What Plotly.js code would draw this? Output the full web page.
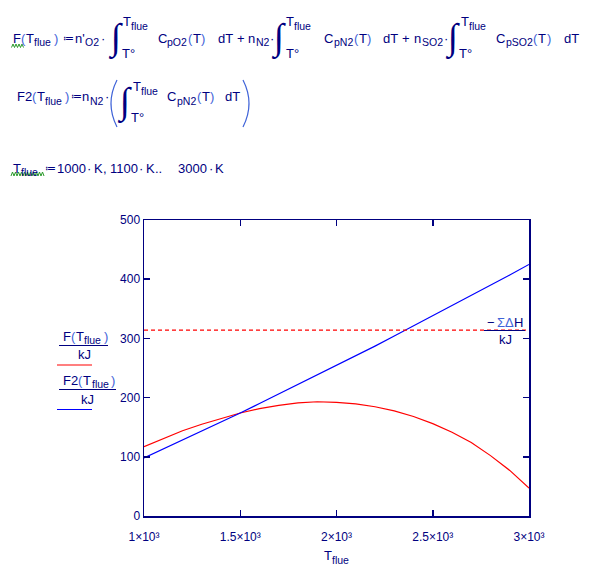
<!DOCTYPE html>
<html><head><meta charset="utf-8">
<script src="https://cdn.plot.ly/plotly-3.0.1.min.js"></script>
<style>html,body{margin:0;padding:0;background:#fff}#chart{width:595px;height:576px}</style>
</head><body><div id="chart"></div>
<script>
// ---- data ----
const tFlue = [1000,1100,1200,1300,1400,1500,1600,1700,1800,1900,2000,2100,2200,2300,2400,2500,2600,2700,2800,2900,3000];
const fValues = [117,131,144,155,165,174,181.5,187,191,193,192,189.5,184.5,177.5,168,156,141.5,124,102,77,47];
const f2Values = [98,113,128,143,159,174,190,206,222,238,254,270,287,304,321,338,355,372,390,407,425];
const heatRelease = 314; // -ΣΔH / kJ
const xTickVals = [1000,1500,2000,2500,3000];
const xTickText = ['1×10³','1.5×10³','2×10³','2.5×10³','3×10³'];
const yTickVals = [0,100,200,300,400,500];

// ---- layout helpers ----
const NAVY = '#000080', PAREN = '#3f63d8', GREEN = '#2a9a2a';
const FAM = 'Liberation Sans';
const FONT = 'Liberation Sans, Arial, sans-serif';
const SUBSIZE = 10.5;
const L = 144, R = 529, TOP = 220, BOT = 516;
const W = R - L, H = BOT - TOP;
const px = x => (x - L) / W;
const py = y => (BOT - y) / H;
const anns = [];
function txt(x, y, text, o) {
  o = o || {};
  anns.push({xref:'paper', yref:'paper', x:px(x), y:py(y), text:text, showarrow:false,
    xanchor:o.xa || 'left', yanchor:'middle', borderpad:0,
    font:{family:o.family || FONT, size:o.size || 13, color:o.color || NAVY}});
}
const ctx = document.createElement('canvas').getContext('2d');
function measure(t, size, fam) { ctx.font = size + 'px "' + (fam || FAM) + '"'; return ctx.measureText(t).width; }
// items: {t, x (anchor), g (gap), s (subscript), p (paren colour), size, fam}
function run(y, items) {
  let end = -1e9;
  for (const it of items) {
    const size = it.s ? SUBSIZE : (it.size || 13);
    const g = it.g || 0;
    const x = (it.x !== undefined) ? Math.max(it.x, end + g) : end + g;
    txt(x, y + (it.s ? 4 : 0), it.t, {size:size, color:it.p ? PAREN : NAVY,
      family:it.fam ? it.fam + ', ' + FONT : FONT});
    end = x + measure(it.t, size, it.fam);
  }
}
const M = (t, x, g) => ({t:t, x:x, g:g === undefined ? 0.5 : g});
const S = (t, g) => ({t:t, s:true, g:g === undefined ? 0.3 : g});
const Pn = (t, g) => ({t:t, p:true, g:g === undefined ? 0.6 : g});
const ASSIGN = x => ({t:'≔', x:x, g:1, size:11, fam:'DejaVu Sans'});
const argT = () => [Pn('(', 0.8), M('T', undefined, 0.5), Pn(')', 0.5)];
const fOfT = (name, x) => [M(name, x), Pn('(', 0.6), M('T', undefined, 0.5), S('flue'), Pn(')', 2.4)];

const shapes = [];
function hline(x0, x1, y, color, w) {
  shapes.push({type:'line', xref:'paper', yref:'paper', x0:px(x0), x1:px(x1), y0:py(y), y1:py(y),
    line:{color:color, width:w || 1}, layer:'above'});
}
function squiggle(x0, x1, yTop, yBot) {
  let d = 'M' + px(x0) + ',' + py(yBot);
  let up = true;
  for (let x = x0 + 1.5; x <= x1 + 0.01; x += 1.5) {
    d += ' L' + px(x) + ',' + py(up ? yTop : yBot);
    up = !up;
  }
  shapes.push({type:'path', xref:'paper', yref:'paper', path:d, line:{color:GREEN, width:1}, layer:'above'});
}
function bigParen(xEdge, xMid, yTop, yBot) {
  const d = 'M' + px(xEdge) + ',' + py(yTop) + ' Q' + px(xMid) + ',' + py((yTop + yBot) / 2) + ' ' + px(xEdge) + ',' + py(yBot);
  shapes.push({type:'path', xref:'paper', yref:'paper', path:d, line:{color:PAREN, width:1.2}, layer:'above'});
}
function integral(x, yc, xUp, yUp, xLo, yLo) {
  txt(x, yc, '∫', {size:37, family:'Liberation Serif, serif'});
  run(yUp, [M('T', xUp), S('flue')]);
  run(yLo, [M('T°', xLo)]);
}

// ---- line 1 ----
const y1 = 38;
run(y1, [].concat(fOfT('F', 11.7), [ASSIGN(62), M("n'", 72, 0.5), S('O2', 1.2), M('·', undefined, 1.5)]));
integral(107, 37, 121.5, 21.7, 121, 53.3);
run(y1, [].concat([M('C', 156.7), S('pO2')], argT(),
  [M('dT', 216.5, 4), M('+', 236, 3), M('n', 246.5, 3), S('N2', 0.8), M('·', undefined, 1)]));
integral(270, 37, 285, 21.7, 285, 53.3);
run(y1, [].concat([M('C', 323), S('pN2')], argT(),
  [M('dT', 382, 4), M('+', 401, 3), M('n', 413, 3), S('SO2', 0.8), M('·', undefined, 1)]));
integral(444, 37, 460, 21.7, 458, 53.3);
run(y1, [].concat([M('C', 495), S('pSO2')], argT(), [M('dT', 563, 4)]));
squiggle(11.5, 24, 44, 47.5);

// ---- line 2 ----
const y2 = 97;
run(y2, [].concat(fOfT('F2', 15.5), [ASSIGN(69.5), M('n', 78, 0.5), S('N2', 0.8), M('·', undefined, 1.5)]));
bigParen(117, 105, 80, 127);
integral(116, 101.5, 132, 86.7, 130, 117.7);
run(y2, [].concat([M('C', 166), S('pN2')], argT(), [M('dT', 224, 4)]));
bigParen(243, 255, 80, 127);

// ---- line 3 ----
const y3 = 168;
run(y3, [M('T', 11.7), S('flue'), ASSIGN(43.5),
  M('1000', 53.3, 1), M('·', undefined, 2), M('K', undefined, 2), M(',', 101.5, 1),
  M('1100', 108.5, 2), M('·', undefined, 2), M('K', undefined, 2), M('..', 154, 1),
  M('3000', 176.7, 3), M('·', undefined, 2), M('K', undefined, 2)]);
squiggle(11, 45, 172, 176);

// ---- left legend ----
run(336, fOfT('F', 61.7));
hline(59, 108, 345.5, NAVY, 1);
txt(84, 354, 'kJ', {xa:'center'});
hline(57, 92, 365, '#ff0000', 1.2);
run(380, fOfT('F2', 61.7));
hline(59, 116, 389.5, NAVY, 1);
txt(87, 399, 'kJ', {xa:'center'});
hline(57, 92, 409.5, '#0000ff', 1.2);

// ---- right label ----
run(322, [M('−', 485.5), Pn('ΣΔ', 2.5), M('H', undefined, 0.5)]);
hline(484, 525, 330.5, NAVY, 1);
txt(505, 339, 'kJ', {xa:'center'});

// ---- x axis title ----
run(555.5, [M('T', 323), S('flue')]);

// ---- traces ----
const traces = [
  {x:tFlue, y:fValues, type:'scatter', mode:'lines', name:'F(T_flue)/kJ', line:{color:'#ff0000', width:1.2}},
  {x:tFlue, y:f2Values, type:'scatter', mode:'lines', name:'F2(T_flue)/kJ', line:{color:'#0000ff', width:1.2}},
  {x:[tFlue[0], tFlue[tFlue.length-1]], y:[heatRelease, heatRelease], type:'scatter', mode:'lines', name:'-ΣΔH/kJ',
   line:{color:'#ff0000', width:1.2, dash:'4px,3px'}}
];

const axisCommon = {showline:true, linecolor:NAVY, linewidth:1.5, mirror:'allticks', ticks:'inside', ticklen:6,
  tickwidth:1.5, tickcolor:NAVY, showgrid:false, zeroline:false, tickfont:{family:FONT, size:12, color:NAVY}};

const layout = {
  width:595, height:576,
  margin:{l:L, r:595-R, t:TOP, b:576-BOT, pad:0},
  paper_bgcolor:'#fff', plot_bgcolor:'#fff',
  showlegend:false,
  xaxis:Object.assign({}, axisCommon, {range:[1000,3000], tickvals:xTickVals, ticktext:xTickText,
    ticklabelstandoff:9}),
  yaxis:Object.assign({}, axisCommon, {range:[0,500], tickvals:yTickVals}),
  annotations:anns,
  shapes:shapes
};

Plotly.newPlot('chart', traces, layout, {displayModeBar:false, staticPlot:true});
</script></body></html>
